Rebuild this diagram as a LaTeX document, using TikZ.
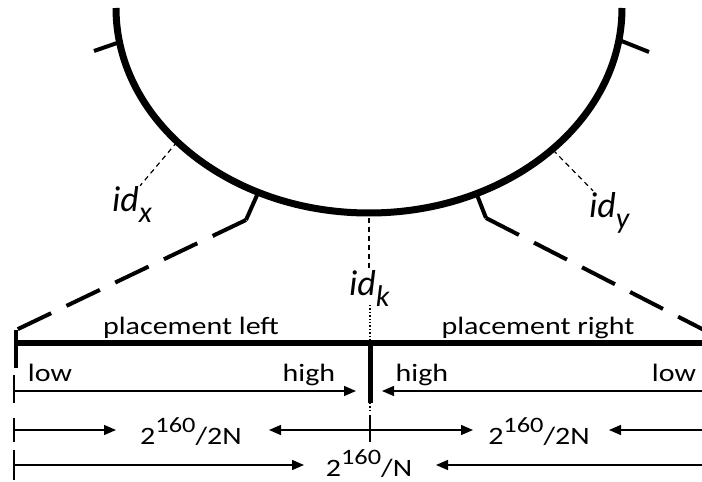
\documentclass[tikz,border=0pt]{standalone}
\usepackage{fontspec}
\setmainfont{Carlito}
\newfontfamily\widefont[FakeStretch=1.2]{Carlito}
\usetikzlibrary{calc,arrows.meta}

\newcommand{\idlab}[1]{\fontsize{36}{40}\selectfont\itshape id\raisebox{-0.28em}{\fontsize{30}{32}\selectfont #1}}
\newcommand{\pw}[1]{\raisebox{0.48em}{\fontsize{22}{24}\selectfont #1}}

\begin{document}
\begin{tikzpicture}[x=1pt, y=1pt,
  ring/.style={line width=7pt},
  tick/.style={line width=4pt},
  zoomline/.style={line width=4pt, dash pattern=on 37pt off 17pt},
  bar/.style={line width=6pt},
  leader/.style={line width=1.2pt, dash pattern=on 5pt off 4pt},
  arr/.style={line width=1.4pt, -{Triangle[length=12pt,width=10pt]}},
  thin/.style={line width=1.4pt},
  txt/.style={font=\widefont\fontsize{25}{28}\selectfont, inner sep=0pt, anchor=base},
  idtxt/.style={inner sep=0pt, anchor=base west}]
  \useasboundingbox (0,0) rectangle (702,482);
  \clip (0,0) rectangle (702,482);

  % ring
  \coordinate (O) at (369,474);
  \draw[ring] (116,474) arc[start angle=180, end angle=360, x radius=253, y radius=205];

  \coordinate (A) at (120,440);  \coordinate (A') at (94,431);
  \coordinate (B) at (619,442);  \coordinate (B') at (649,430);
  \coordinate (C) at (258,289);  \coordinate (C') at (246,262);
  \coordinate (D) at (477,287);  \coordinate (D') at (486,264);
  \draw[tick] (A)--(A');
  \draw[tick] (B)--(B');
  \draw[tick] (C)--(C');
  \draw[tick] (D)--(D');

  % bar
  \coordinate (E) at (16,152);
  \coordinate (F) at (16,114);
  \coordinate (G) at (16,139);
  \coordinate (H) at (712,139);
  \coordinate (K) at (370,139);
  \coordinate (K') at (370,79);
  \coordinate (M) at (706,151);
  \draw[zoomline] (C')--(E);
  \draw[zoomline] (D')--(M);
  \draw[bar] (G)--(H);
  \draw[line width=4.5pt] (E)--(F);
  \draw[line width=5pt] (K)--(K');

  % ids
  \node[idtxt] (idx) at (112,270) {\idlab{x}};
  \node[idtxt] (idy) at (589,264) {\idlab{y}};
  \node[idtxt] (idk) at (349,186) {\idlab{k}};
  \coordinate (Px) at (177,340);
  \coordinate (Py) at (553,332);
  \coordinate (Pk) at (369,264);
  \draw[leader] (Px)--($(idx.north)+(8,1)$);
  \draw[leader] (Py)--($(idy.north west)+(4,2)$);
  \draw[leader] (Pk)--(369,214);
  \draw[dotted, thin] (370,177)--(K);
  \draw[dotted, thin] (K')--(370,70);

  % labels
  \node[txt] (pl) at (191,147) {placement left};
  \node[txt] (pr) at (538,147) {placement right};
  \node[txt] (lowl) at (50,100) {low};
  \node[txt] (highl) at (309,100) {high};
  \node[txt] (highr) at (422,100) {high};
  \node[txt] (lowr) at (674,100) {low};
  \node[txt] (halfl) at (191,37) {2\pw{160}/2N};
  \node[txt] (halfr) at (539,37) {2\pw{160}/2N};
  \node[txt] (full) at (369,5) {2\pw{160}/N};

  % arrows
  \coordinate (L1) at (14,91);  \coordinate (T1) at (356,91);
  \coordinate (R1) at (702,91); \coordinate (U1) at (382,91);
  \coordinate (L2) at (14,52);  \coordinate (T2) at (116,52);
  \coordinate (M2) at (370,52); \coordinate (U2) at (269,52);
  \coordinate (V2) at (473,52);
  \coordinate (R2) at (702,52); \coordinate (W2) at (609,52);
  \coordinate (L3) at (14,17);  \coordinate (T3) at (304,17);
  \coordinate (R3) at (702,17); \coordinate (U3) at (436,17);
  \draw[arr] (L1)--(T1);
  \draw[arr] (R1)--(U1);
  \draw[arr] (L2)--(T2);
  \draw[arr] (M2)--(U2);
  \draw[arr] (M2)--(V2);
  \draw[arr] (R2)--(W2);
  \draw[arr] (L3)--(T3);
  \draw[arr] (R3)--(U3);

  \draw[thin] (14,107)--(14,79);
  \draw[thin] (14,64)--(14,40);
  \draw[thin] (14,32)--(14,2);
  \draw[thin] (370,67)--(370,40);
\end{tikzpicture}
\end{document}
